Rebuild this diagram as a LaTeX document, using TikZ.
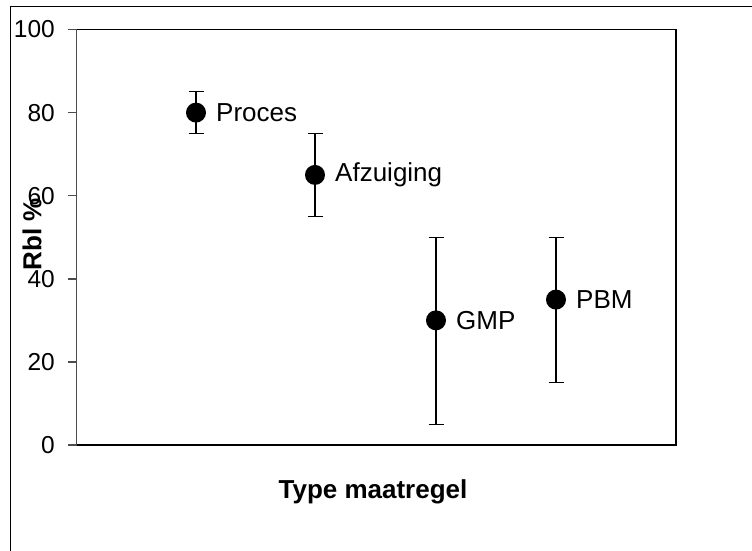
\documentclass[tikz,border=0pt]{standalone}
\usepackage{fontspec}
\setmainfont{Liberation Sans}
\begin{document}
\begin{tikzpicture}[x=1pt,y=-1pt,
  dot/.style={circle,fill=black,inner sep=0pt,minimum size=20pt},
  bar/.style={line width=1.3pt,black},
  ticklab/.style={anchor=east,inner sep=0pt,font=\fontsize{24.5}{28}\selectfont},
  ptlab/.style={anchor=west,inner sep=0pt,font=\fontsize{26}{30}\selectfont},
  axtitle/.style={inner sep=0pt,font=\bfseries\fontsize{26}{30}\selectfont},
  axisline/.style={line width=1.4pt,black!70},
  frameline/.style={line width=1.6pt,black}]
\useasboundingbox (0,0) rectangle (752,551);
% outer border
\draw[line width=1pt] (10,551) -- (10,7) -- (752,7);
% plot frame
\coordinate (tl) at (76.5,29.5);
\coordinate (tr) at (676,29.5);
\coordinate (br) at (676,445);
\coordinate (bl) at (76.5,445);
\draw[frameline] (tl) -- (tr) -- (br) -- (bl);
\draw[axisline] (bl) -- (tl);
% ticks and labels
\foreach \v in {0,20,40,60,80,100}{
  \draw[axisline] (68,{445-4.155*\v}) -- (76.5,{445-4.155*\v});
  \node[ticklab] (t\v) at (55,{445-4.155*\v}) {\v};
}
% axis titles
\node[axtitle] (xt) at (373,492) {Type maatregel};
\node[axtitle,rotate=90] (yt) at (32,234) {Rbl \%};
% data
\foreach \n/\x/\v/\lo/\hi/\lab in {a/196/80/75/85/Proces, b/315/65/55/75/Afzuiging, c/436/30/5/50/GMP, d/556/35/15/50/PBM}{
  \coordinate (\n t) at (\x,{445-4.155*\hi});
  \coordinate (\n b) at (\x,{445-4.155*\lo});
  \draw[bar] (\n b) -- (\n t);
  \draw[bar] ([xshift=-7.5pt]\n t) -- ([xshift=7.5pt]\n t);
  \draw[bar] ([xshift=-7.5pt]\n b) -- ([xshift=7.5pt]\n b);
  \node[dot] (\n) at (\x,{445-4.155*\v}) {};
  \node[ptlab] (\n l) at ([xshift=20pt]\n.center) {\lab};
}
\end{tikzpicture}
\end{document}
